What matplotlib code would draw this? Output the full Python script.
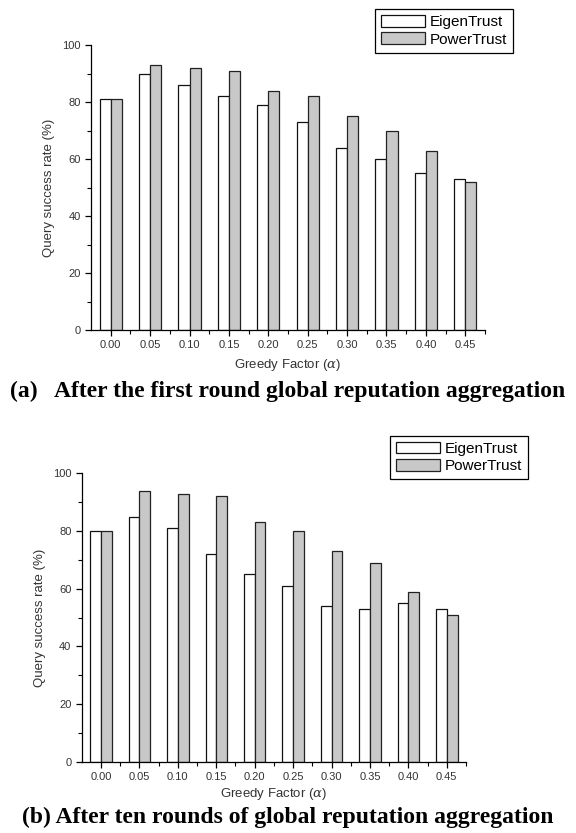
import numpy as np
import matplotlib
matplotlib.use('Agg')
import matplotlib.pyplot as plt

greedy = [0.00, 0.05, 0.10, 0.15, 0.20, 0.25, 0.30, 0.35, 0.40, 0.45]
tick_labels = ['0.00', '0.05', '0.10', '0.15', '0.20', '0.25', '0.30', '0.35', '0.40', '0.45']

# (a) after first round
eigen_a = [81, 90, 86, 82, 79, 73, 64, 60, 55, 53]
power_a = [81, 93, 92, 91, 84, 82, 75, 70, 63, 52]

# (b) after ten rounds
eigen_b = [80, 85, 81, 72, 65, 61, 54, 53, 55, 53]
power_b = [80, 94, 93, 92, 83, 80, 73, 69, 59, 51]

plt.rcParams['font.family'] = ['Liberation Sans', 'DejaVu Sans']
plt.rcParams['mathtext.fontset'] = 'dejavuserif'

fig = plt.figure(figsize=(5.76, 8.33), dpi=100)


def draw_panel(rect, eigen, power, legend_box, caption, cap_xy, xpad):
    ax = fig.add_axes(rect)
    x = np.array(greedy)
    w = 0.014
    ax.bar(x - w / 2, eigen, w, color='white', edgecolor='#111111',
           linewidth=0.9, label='EigenTrust')
    ax.bar(x + w / 2, power, w, color='#c8c8c8', edgecolor='#222222',
           linewidth=0.9, label='PowerTrust')
    ax.set_xlim(-0.025, 0.475)
    ax.set_ylim(0, 100)
    ax.set_xticks(x)
    ax.set_xticklabels(tick_labels)
    ax.set_xticks(x + 0.025, minor=True)
    ax.set_yticks([0, 20, 40, 60, 80, 100])
    ax.set_yticks([10, 30, 50, 70, 90], minor=True)
    for s in ['top', 'right']:
        ax.spines[s].set_visible(False)
    for s in ['left', 'bottom']:
        ax.spines[s].set_linewidth(0.9)
    ax.tick_params(axis='both', which='major', direction='out', length=4,
                   width=0.9, labelsize=8, colors='black', labelcolor='#333333')
    ax.tick_params(axis='both', which='minor', direction='out', length=3, width=0.8)
    ax.set_xlabel(r'Greedy Factor ($\alpha$)', fontsize=9.5, color='#333333', labelpad=xpad)
    ax.set_ylabel('Query success rate (%)', fontsize=9.5, color='#333333', labelpad=5)
    leg = ax.legend(loc='upper left', bbox_to_anchor=legend_box,
                    bbox_transform=fig.transFigure, fontsize=11,
                    handlelength=2.9, handleheight=0.8, handletextpad=0.3,
                    labelspacing=0.2, borderpad=0.4, frameon=True,
                    fancybox=False, framealpha=1, borderaxespad=0)
    leg.get_frame().set_edgecolor('black')
    leg.get_frame().set_linewidth(0.9)
    fig.text(cap_xy[0], cap_xy[1], caption, fontsize=17, fontweight='bold',
             family='Liberation Serif', ha='center', va='center')
    return ax


draw_panel([0.158, 0.6038, 0.684, 0.342], eigen_a, power_a,
           (0.651, 0.989),
           '(a)   After the first round global reputation aggregation',
           (0.5, 1 - 391 / 833), 5)

draw_panel([0.142, 0.0855, 0.667, 0.3463], eigen_b, power_b,
           (0.677, 0.477),
           '(b) After ten rounds of global reputation aggregation',
           (0.5, 1 - 817 / 833), 3)

fig.savefig('out.png', dpi=100)
